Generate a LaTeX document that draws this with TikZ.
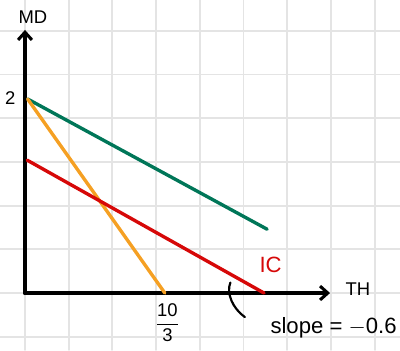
\documentclass[tikz,border=0pt]{standalone}
\usepackage{fontspec}
\setmainfont{Liberation Sans}
\usepackage{xcolor}
\definecolor{gridgray}{RGB}{228, 228, 228}
\definecolor{budget}{RGB}{0, 118, 88}
\definecolor{indiff}{RGB}{214, 8, 8}
\definecolor{steep}{RGB}{245, 160, 35}
\usepackage{tikz}
\usetikzlibrary{calc,arrows.meta}

\begin{document}
\begin{tikzpicture}[line cap=round,
    axis/.style={line width=2.6pt, -{Straight Barb[length=5pt,width=9pt,line width=2pt]}},
    curveline/.style={line width=2.2pt},
    lbl/.style={font=\large, inner sep=1pt}]
    % Frame and grid paper
    \useasboundingbox (-0.572, -1.304) rectangle (8.581, 6.705);
    \draw[gridgray, line width=1.2pt] (-0.572, -1.304) grid (8.581, 6.705);

    % Axes
    \coordinate (O) at (0, 0);
    \draw[axis] (O) -- (0, 6.02) coordinate (Ytip);
    \draw[axis] (O) -- (6.98, 0) coordinate (Xtip);
    \node[lbl] (MD) at (0.18, 6.32) {MD};
    \node[lbl] (TH) at (7.62, 0.08) {TH};

    % Intercepts
    \coordinate (Two) at (0.06, 4.44);
    \coordinate (Ten) at (3.2, 0);
    \coordinate (IcTop) at (0.05, 3.04);
    \coordinate (IcEnd) at (5.47, 0);
    \coordinate (GrEnd) at (5.54, 1.46);
    \node[lbl] (TwoLbl) at (-0.34, 4.47) {2};
    \node[lbl] (TenLbl) at (3.26, -0.68) {$\displaystyle\frac{\mbox{10}}{\mbox{3}}$};

    % Lines
    \draw[curveline, budget] (Two) -- (GrEnd);
    \draw[curveline, steep] (Two) -- (Ten);
    \draw[curveline, indiff] (IcTop) -- (IcEnd);
    \node[lbl, indiff, font=\Large] (IC) at (5.62, 0.64) {IC};

    % Slope mark
    \draw[line width=1.4pt] (4.7, 0.24) .. controls (4.6, 0.0) and (4.75, -0.35) .. (5.03, -0.55);
    \node[lbl, font=\Large] (Slope) at (7.06, -0.8) {slope = $-$0.6};
\end{tikzpicture}
\end{document}
